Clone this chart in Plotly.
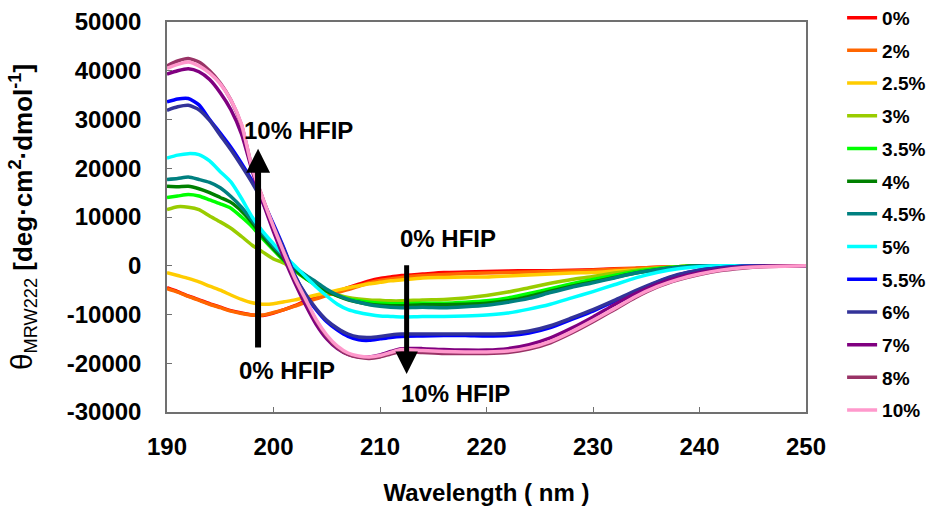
import plotly.graph_objects as go

wavelength = [190, 191, 192, 193, 194, 195, 196, 197, 198, 199, 200, 201, 202, 203, 204, 205, 206, 207, 208, 209,
              210, 211, 212, 214, 216, 218, 220, 222, 224, 226, 228, 230, 232, 234, 236, 238, 240, 242, 244, 246, 248, 250]

labels = ["0%", "2%", "2.5%", "3%", "3.5%", "4%", "4.5%", "5%", "5.5%", "6%", "7%", "8%", "10%"]
colors = ["#FF0000", "#FF6600", "#FFCC00", "#99CC00", "#00FF00", "#008000", "#008080",
          "#00FFFF", "#0000FF", "#333399", "#800080", "#993366", "#FF99CC"]

hfip_0 = [-4500, -5300, -6200, -7000, -7800, -8500, -9200, -9700, -10100, -10200, -9700, -9000, -8200, -7200, -6500, -5800,
          -5200, -4500, -3800, -3100, -2600, -2300, -2000, -1700, -1400, -1300, -1200, -1100, -1000, -1000, -900, -800,
          -600, -500, -300, -200, -100, 0, 0, 0, 0, 0]
hfip_2 = [-4700, -5400, -6300, -7100, -7900, -8600, -9300, -9800, -10100, -10100, -9600, -9000, -8300, -7500, -6800, -6100,
          -5500, -4900, -4200, -3500, -3000, -2700, -2400, -2000, -1800, -1600, -1500, -1400, -1300, -1200, -1100, -900,
          -700, -500, -300, -200, -100, 0, 0, 0, 0, 0]
hfip_2_5 = [-1400, -2000, -2600, -3300, -4200, -5000, -6000, -6900, -7600, -7900, -7800, -7400, -7000, -6500, -6000, -5500,
            -5000, -4500, -4100, -3700, -3400, -3100, -2900, -2500, -2400, -2300, -2300, -2100, -1900, -1700, -1500, -1400,
            -1100, -800, -500, -200, 0, 0, 0, 0, 0, 0]
hfip_3 = [11500, 12100, 12000, 11500, 10200, 9000, 7700, 6000, 4200, 2800, 1400, 500, -1100, -2600, -3900, -5000,
          -6000, -6500, -6800, -7000, -7100, -7200, -7200, -7000, -6900, -6600, -6100, -5400, -4500, -3600, -2800, -2200,
          -1500, -900, -500, -200, 0, 0, 0, 0, 0, 0]
hfip_3_5 = [14000, 14300, 14600, 14300, 13500, 12700, 11800, 10000, 8000, 5500, 3200, 1000, -900, -2600, -4000, -5200,
            -6100, -6800, -7200, -7500, -7700, -7800, -7800, -7700, -7700, -7500, -7200, -6600, -5700, -4700, -3700, -2800,
            -2000, -1200, -600, -200, 0, 0, 0, 0, 0, 0]
hfip_4 = [16300, 16200, 16300, 15800, 15000, 14000, 13000, 11200, 8800, 5900, 3500, 1200, -800, -2500, -3900, -5200,
          -6200, -7000, -7500, -7900, -8100, -8200, -8200, -8000, -8000, -7900, -7700, -7200, -6300, -5200, -4200, -3300,
          -2400, -1500, -800, -300, 0, 0, 0, 0, 0, 0]
hfip_4_5 = [17700, 17900, 18200, 17700, 17100, 16000, 14200, 12000, 9300, 6600, 4000, 1800, -300, -1900, -3300, -4800,
            -6000, -6900, -7500, -8000, -8300, -8500, -8600, -8500, -8600, -8400, -8100, -7500, -6700, -5500, -4400, -3500,
            -2500, -1500, -800, -300, 0, 0, 0, 0, 0, 0]
hfip_5 = [22100, 22700, 23000, 22800, 21500, 19300, 17200, 13800, 10000, 7000, 4500, 2100, 0, -2200, -4300, -6200,
          -7900, -9000, -9600, -10000, -10300, -10400, -10500, -10400, -10400, -10300, -10100, -9700, -8900, -7900, -6600, -5300,
          -3900, -2500, -1400, -600, -200, 0, 0, 0, 0, 0]
hfip_5_5 = [33600, 34200, 34300, 33000, 30000, 27200, 24300, 21000, 17400, 13300, 8500, 3500, -2000, -6000, -9000, -11500,
            -13200, -14500, -15200, -15300, -15000, -14700, -14500, -14400, -14300, -14300, -14400, -14300, -13800, -12700, -11000, -9300,
            -7300, -5300, -3400, -1900, -900, -400, -100, 0, 0, 0]
hfip_6 = [31900, 32600, 32900, 32000, 29800, 26800, 23800, 20500, 17000, 13000, 8200, 3200, -2000, -5800, -8800, -11200,
          -12800, -14000, -14600, -14700, -14500, -14200, -14000, -14000, -14000, -14000, -14000, -13900, -13400, -12300, -10700, -9000,
          -7100, -5100, -3300, -1800, -900, -400, -100, 0, 0, 0]
hfip_7 = [39300, 40000, 40400, 39800, 38200, 35500, 32000, 27000, 19500, 13000, 7000, 1500, -3500, -8000, -12000, -15000,
          -17000, -18200, -18700, -18700, -18300, -17600, -17000, -17000, -17200, -17300, -17300, -17000, -16200, -14800, -12800, -10500,
          -8000, -5700, -3800, -2400, -1400, -700, -300, -100, 0, 0]
hfip_8 = [41000, 42000, 42500, 41800, 40000, 37500, 34000, 28800, 20000, 13800, 8000, 2500, -2700, -7000, -11200, -14500,
          -16800, -18200, -18800, -19000, -18700, -18100, -17600, -17800, -18000, -18000, -18000, -17800, -17100, -15800, -13800, -11500,
          -9000, -6500, -4400, -2900, -1800, -1000, -500, -200, -100, 0]
hfip_10 = [40500, 41300, 41800, 41000, 39500, 37300, 34000, 29000, 20000, 13800, 8000, 2600, -2500, -6800, -11000, -14200,
           -16500, -17900, -18500, -18700, -18400, -17800, -17200, -17400, -17600, -17700, -17700, -17500, -16800, -15500, -13500, -11200,
           -8800, -6300, -4300, -2800, -1700, -900, -400, -200, -100, 0]

series = [hfip_0, hfip_2, hfip_2_5, hfip_3, hfip_3_5, hfip_4, hfip_4_5, hfip_5, hfip_5_5, hfip_6, hfip_7, hfip_8, hfip_10]

x_ticks = [190, 200, 210, 220, 230, 240, 250]
y_ticks = [-30000, -20000, -10000, 0, 10000, 20000, 30000, 40000, 50000]

FONT = "Liberation Sans"

fig = go.Figure()
for i, (lab, col, vals) in enumerate(zip(labels, colors, series)):
    fig.add_trace(go.Scatter(
        x=wavelength, y=vals, name=lab, mode="lines",
        line=dict(color=col, width=3.5, shape="spline", smoothing=0.6),
        legendgroup=lab,
    ))

fig.update_layout(
    width=928, height=509,
    margin=dict(l=167, r=122, t=22, b=97, autoexpand=False),
    paper_bgcolor="white", plot_bgcolor="white",
    font=dict(family=FONT, color="black"),
    showlegend=True,
    legend=dict(
        x=1.0565, y=1.0595, xanchor="left", yanchor="top",
        font=dict(family=FONT, size=19, color="black", weight="bold"),
        tracegroupgap=5, itemwidth=30, bgcolor="rgba(0,0,0,0)",
        maxheight=1.0,
    ),
    xaxis=dict(
        range=[190, 250], tickvals=x_ticks, ticktext=[str(v) for v in x_ticks],
        showgrid=False, zeroline=False, showline=True, mirror=True,
        linecolor="#707070", linewidth=1.5, ticks="inside", ticklen=5, tickcolor="#707070",
        tickfont=dict(family=FONT, size=24, color="black", weight="bold"),
        ticklabelstandoff=12,
        title=dict(text="Wavelength ( nm )", font=dict(family=FONT, size=24, color="black", weight="bold"),
                   standoff=26),
    ),
    yaxis=dict(
        range=[-30000, 50000], tickvals=y_ticks, ticktext=[str(v) for v in y_ticks],
        showgrid=False, zeroline=False, showline=True, mirror=True,
        linecolor="#707070", linewidth=1.5, ticks="inside", ticklen=5, tickcolor="#707070",
        tickfont=dict(family=FONT, size=24, color="black", weight="bold"),
        ticklabelstandoff=19,
        title=dict(text="<span style='font-size:30px'>θ</span><sub>MRW222</sub> <b>[deg·cm<sup>2</sup>·dmol<sup>-1</sup>]</b>",
                   font=dict(family=FONT, size=26, color="black"), standoff=27),
    ),
)

ann_font = dict(family=FONT, size=24, color="black", weight="bold")
fig.add_annotation(x=198.55, y=24000, ax=198.55, ay=-17100, xref="x", yref="y", axref="x", ayref="y",
                   text="", showarrow=True, arrowhead=2, arrowsize=0.8, arrowwidth=6, arrowcolor="black")
fig.add_annotation(x=212.5, y=-22200, ax=212.5, ay=400, xref="x", yref="y", axref="x", ayref="y",
                   text="", showarrow=True, arrowhead=2, arrowsize=0.9, arrowwidth=5, arrowcolor="black")
fig.add_annotation(x=202.3, y=27800, text="10% HFIP", showarrow=False, font=ann_font)
fig.add_annotation(x=201.3, y=-21400, text="0% HFIP", showarrow=False, font=ann_font)
fig.add_annotation(x=216.4, y=5500, text="0% HFIP", showarrow=False, font=ann_font)
fig.add_annotation(x=217.1, y=-26300, text="10% HFIP", showarrow=False, font=ann_font)

fig.write_html("out.html")
